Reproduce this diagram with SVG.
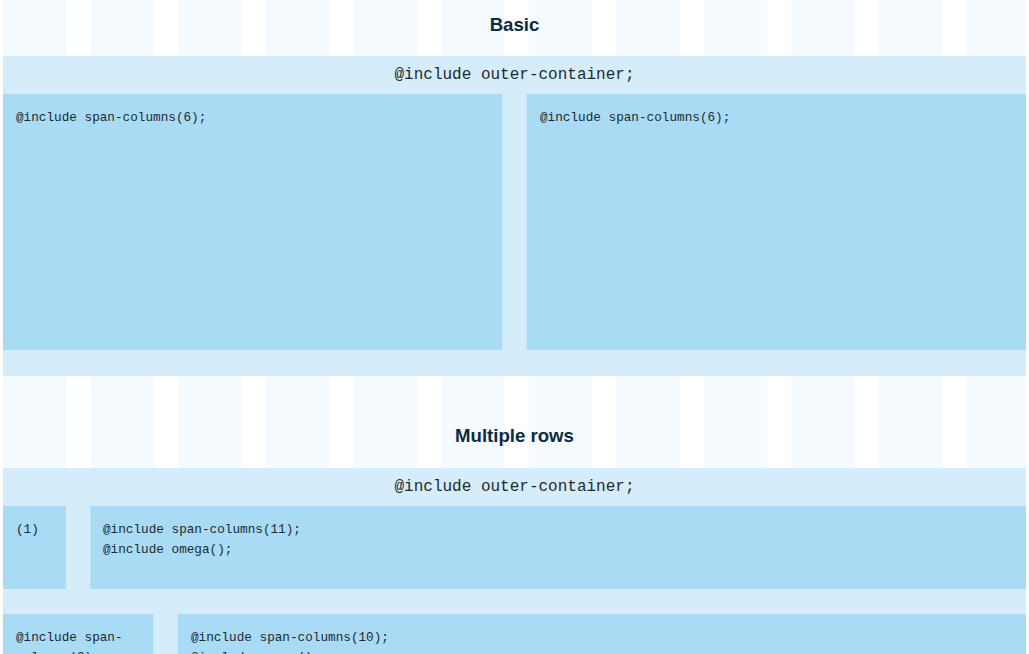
<svg xmlns="http://www.w3.org/2000/svg" width="1029" height="654" viewBox="0 0 1029 654">
  <style>
    .stripe { fill: #f5fafe; }
    .band { fill: #d5edfa; }
    .box { fill: #a9dbf4; }
    .title { font-family: "Liberation Sans", Arial, sans-serif; font-weight: bold; font-size: 18.6px; fill: #0b2b40; text-anchor: middle; }
    .head { font-family: "Liberation Mono", "Courier New", monospace; font-size: 16px; fill: #1e2a30; text-anchor: middle; }
    .code { font-family: "Liberation Mono", "Courier New", monospace; font-size: 12.7px; fill: #1e2a30; }
  </style>
  <rect x="0" y="0" width="1029" height="654" fill="#ffffff"/>
  <g id="grid-stripes">
    <rect class="stripe" x="3" y="0" width="63.5" height="654"/>
    <rect class="stripe" x="90.6" y="0" width="63.5" height="654"/>
    <rect class="stripe" x="178.2" y="0" width="63.5" height="654"/>
    <rect class="stripe" x="265.8" y="0" width="63.5" height="654"/>
    <rect class="stripe" x="353.4" y="0" width="63.5" height="654"/>
    <rect class="stripe" x="441" y="0" width="63.5" height="654"/>
    <rect class="stripe" x="528.6" y="0" width="63.5" height="654"/>
    <rect class="stripe" x="616.2" y="0" width="63.5" height="654"/>
    <rect class="stripe" x="703.8" y="0" width="63.5" height="654"/>
    <rect class="stripe" x="791.4" y="0" width="63.5" height="654"/>
    <rect class="stripe" x="879" y="0" width="63.5" height="654"/>
    <rect class="stripe" x="966.6" y="0" width="59.4" height="654"/>
  </g>

  <g id="section-basic">
    <text class="title" x="514.5" y="31">Basic</text>
    <g id="basic-container">
      <rect class="band" x="3" y="56" width="1023" height="320"/>
      <text class="head" x="514.5" y="79">@include outer-container;</text>
    </g>
    <g id="basic-col-left">
      <rect class="box" x="3" y="94" width="499.4" height="256"/>
      <text class="code" x="16" y="121">@include span-columns(6);</text>
    </g>
    <g id="basic-col-right">
      <rect class="box" x="526.6" y="94" width="499.4" height="256"/>
      <text class="code" x="540" y="121">@include span-columns(6);</text>
    </g>
  </g>

  <g id="section-multiple-rows">
    <text class="title" x="514.5" y="442">Multiple rows</text>
    <g id="rows-container">
      <rect class="band" x="3" y="468" width="1023" height="186"/>
      <text class="head" x="514.5" y="491">@include outer-container;</text>
    </g>
    <g id="row1-col1">
      <rect class="box" x="3" y="506" width="63.1" height="83"/>
      <text class="code" x="16" y="533">(1)</text>
    </g>
    <g id="row1-col11">
      <rect class="box" x="90.3" y="506" width="935.7" height="83"/>
      <text class="code" x="103" y="533">@include span-columns(11);</text>
      <text class="code" x="103" y="553">@include omega();</text>
    </g>
    <g id="row2-col2">
      <rect class="box" x="3" y="614" width="150.4" height="40"/>
      <text class="code" x="16" y="641">@include span-</text>
      <text class="code" x="16" y="661">columns(2);</text>
    </g>
    <g id="row2-col10">
      <rect class="box" x="177.5" y="614" width="848.5" height="40"/>
      <text class="code" x="191" y="641">@include span-columns(10);</text>
      <text class="code" x="191" y="661">@include omega();</text>
    </g>
  </g>
  <g id="connectors"/>
</svg>
